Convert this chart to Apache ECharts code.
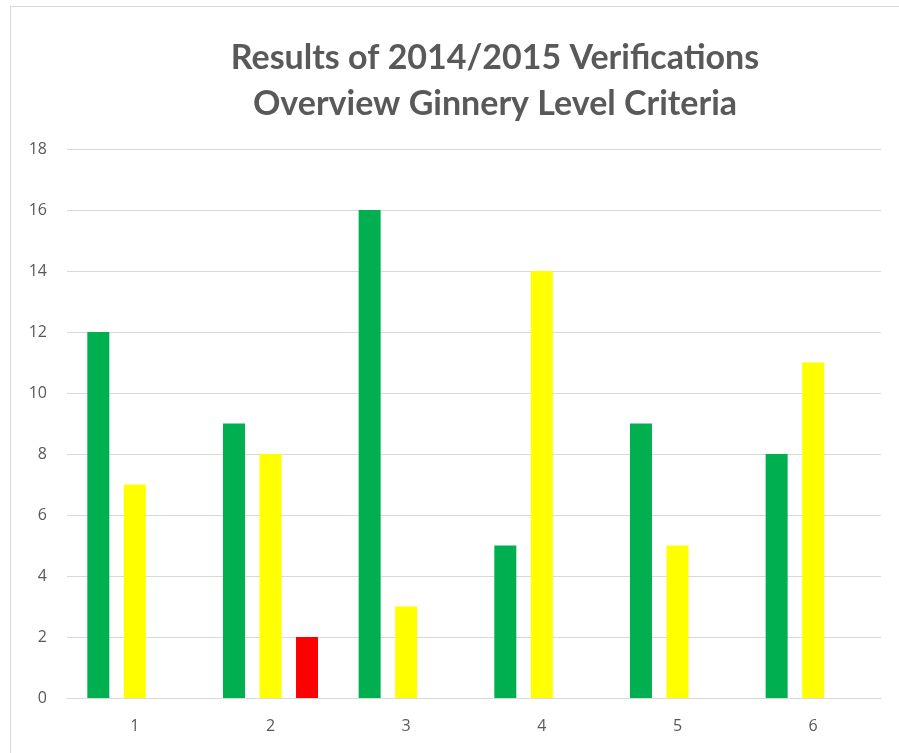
<!DOCTYPE html>
<html><head><meta charset="utf-8">
<script src="https://cdn.jsdelivr.net/npm/echarts@6/dist/echarts.min.js"></script>
<style>html,body{margin:0;padding:0;background:#fff}#c{width:899px;height:753px}</style>
</head><body><div id="c"></div>
<script>
const categories = ['1','2','3','4','5','6'];
const greenValues = [12, 9, 16, 5, 9, 8];
const yellowValues = [7, 8, 3, 14, 5, 11];
const redValues = [0, 2, 0, 0, 0, 0];
const titleLines = ['Results of 2014/2015 Verifications', 'Overview Ginnery Level Criteria'];

const chart = echarts.init(document.getElementById('c'), null, {renderer: 'canvas'});
const labelColor = '#595959';
const gridColor = '#d9d9d9';
const barW = 22;
chart.setOption({
  animation: false,
  backgroundColor: '#fff',
  graphic: [
    {type: 'line', shape: {x1: 10.5, y1: 6, x2: 10.5, y2: 753}, style: {stroke: '#d9d9d9', lineWidth: 1}},
    {type: 'line', shape: {x1: 10, y1: 6.5, x2: 899, y2: 6.5}, style: {stroke: '#d9d9d9', lineWidth: 1}}
  ],
  title: {
    text: titleLines.join('\n'),
    left: 490, top: 30, textAlign: 'center',
    textStyle: {fontFamily: 'Lato', fontWeight: 'bold', fontSize: 34, color: labelColor, lineHeight: 46}
  },
  grid: {left: 67, right: 18, top: 149, bottom: 55, containLabel: false},
  xAxis: {
    type: 'category', data: categories,
    axisLine: {show: true, lineStyle: {color: gridColor, width: 1}},
    axisTick: {show: false},
    axisLabel: {color: labelColor, fontFamily: 'Open Sans', fontSize: 16, margin: 20}
  },
  yAxis: {
    type: 'value', min: 0, max: 18, interval: 2,
    axisLine: {show: false}, axisTick: {show: false},
    splitLine: {lineStyle: {color: gridColor, width: 1}},
    axisLabel: {color: labelColor, fontFamily: 'Open Sans', fontSize: 16, margin: 20}
  },
  series: [
    {type: 'bar', name: 'green', data: greenValues, barWidth: barW, barGap: '66%', itemStyle: {color: '#00b050'}},
    {type: 'bar', name: 'yellow', data: yellowValues, barWidth: barW, barGap: '66%', itemStyle: {color: '#ffff00'}},
    {type: 'bar', name: 'red', data: redValues, barWidth: barW, barGap: '66%', itemStyle: {color: '#ff0000'}}
  ]
});
</script></body></html>
